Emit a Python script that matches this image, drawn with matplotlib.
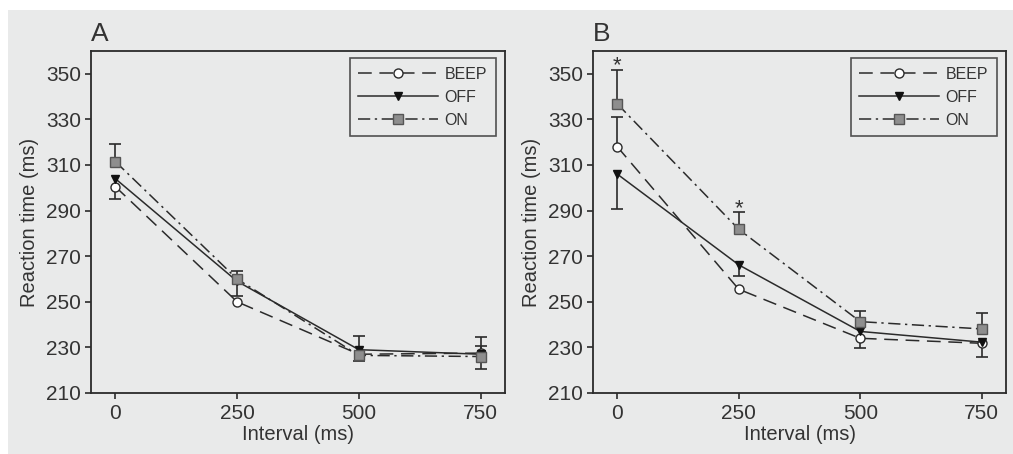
import numpy as np
import matplotlib
matplotlib.use("Agg")
import matplotlib.pyplot as plt
from matplotlib.patches import Rectangle

intervals = [0, 250, 500, 750]
series_names = ["BEEP", "OFF", "ON"]

# Panel A
a_beep = [300.5, 250.0, 227.0, 227.5]
a_off = [304.0, 259.0, 229.0, 227.0]
a_on = [311.5, 260.0, 226.5, 226.0]
a_beep_up = [0, 0, 0, 7.1]
a_beep_lo = [5.3, 0, 0, 0]
a_off_up = [0, 0, 5.8, 3.8]
a_off_lo = [0, 6.4, 0, 0]
a_on_up = [7.6, 3.6, 0, 0]
a_on_lo = [0, 0, 2.3, 5.6]

# Panel B
b_beep = [318.0, 255.5, 234.0, 231.8]
b_off = [306.0, 266.2, 237.0, 232.3]
b_on = [336.8, 281.8, 241.3, 238.1]
b_beep_up = [13.0, 0, 0, 0]
b_beep_lo = [0, 0, 4.2, 6.1]
b_off_up = [0, 0, 0, 0]
b_off_lo = [15.4, 4.8, 0, 0]
b_on_up = [15.0, 7.4, 4.8, 6.9]
b_on_lo = [0, 0, 0, 0]
b_signif = [True, True, False, False]

yticks = [210, 230, 250, 270, 290, 310, 330, 350]
xticks = [0, 250, 500, 750]

BG = "#e9eaea"
INK = "#2b2b2b"
TXT = "#333333"
FONT = "Liberation Sans"

plt.rcParams["font.family"] = [FONT, "DejaVu Sans"]

styles = {
    "BEEP": dict(ls=(0, (9, 5)), marker="o", mfc="white", mec=INK, ms=6.5),
    "OFF": dict(ls="-", marker="v", mfc="#111111", mec="#111111", ms=6.0),
    "ON": dict(ls=(0, (8, 3, 1.5, 3)), marker="s", mfc="#8e8e8e", mec="#555555", ms=6.5),
}

fig = plt.figure(figsize=(10.13, 4.54), dpi=100)
fig.patch.set_facecolor("white")
fig.patches.append(Rectangle((8 / 1013, 0), 1 - 8 / 1013, 1 - 10 / 454,
                             transform=fig.transFigure, facecolor=BG,
                             edgecolor="none", zorder=-10))

def draw_errs(ax, x, y, up, lo):
    x = np.asarray(x, float); y = np.asarray(y, float)
    up = np.asarray(up, float); lo = np.asarray(lo, float)
    for e, sgn in ((up, 1), (lo, -1)):
        m = e > 0
        if m.any():
            tops = y[m] + sgn * e[m]
            ax.vlines(x[m], y[m], tops, color=INK, lw=1.2, zorder=2)
            ax.plot(x[m], tops, ls="none", marker="_", ms=9, mew=1.2,
                    color=INK, zorder=2)

def panel(ax, label, data, errs, signif=None):
    ax.set_facecolor(BG)
    ax.set_xlim(-50, 800)
    ax.set_ylim(210, 360)
    handles = []
    for name, y in zip(series_names, data):
        st = styles[name]
        ln, = ax.plot(intervals, y, color=INK, lw=1.1, ls=st["ls"],
                      marker=st["marker"], mfc=st["mfc"], mec=st["mec"],
                      ms=st["ms"], mew=1.0, zorder=3, label=name)
        handles.append(ln)
    for (y, up, lo) in errs:
        draw_errs(ax, intervals, y, up, lo)
    if signif is not None:
        y_on, up_on = errs[2][0], errs[2][1]
        for xi, yi, ui, s in zip(intervals, y_on, up_on, signif):
            if s:
                ax.annotate("*", (xi, yi + ui), xytext=(0, -5),
                            textcoords="offset points", ha="center",
                            va="bottom", fontsize=16, color=TXT)
    ax.set_xticks(xticks)
    ax.set_yticks(yticks)
    ax.tick_params(direction="out", length=4, width=1.2, color=INK,
                   labelsize=15, labelcolor=TXT, pad=3)
    ax.tick_params(axis="x", pad=4)
    for s in ax.spines.values():
        s.set_color(INK)
        s.set_linewidth(1.3)
    ax.set_xlabel("Interval (ms)", fontsize=14.5, color=TXT, labelpad=1)
    ax.set_ylabel("Reaction time (ms)", fontsize=14.5, color=TXT, labelpad=5)
    ax.text(0.0, 1.015, label, transform=ax.transAxes, fontsize=19,
            color=TXT, ha="left", va="bottom")
    leg = ax.legend(handles=handles, loc="upper right", fontsize=11.5,
                    frameon=True, fancybox=False, handlelength=5.0,
                    handletextpad=0.4, borderpad=0.55, labelspacing=0.5,
                    bbox_to_anchor=(0.978, 0.98), borderaxespad=0)
    leg.get_frame().set_edgecolor(INK)
    leg.get_frame().set_linewidth(1.2)
    leg.get_frame().set_facecolor(BG)
    for t in leg.get_texts():
        t.set_color(TXT)

axA = fig.add_axes([91 / 1013, 61 / 454, 414 / 1013, 342 / 454])
axB = fig.add_axes([593 / 1013, 61 / 454, 413 / 1013, 342 / 454])

panel(axA, "A", [a_beep, a_off, a_on],
      [(a_beep, a_beep_up, a_beep_lo), (a_off, a_off_up, a_off_lo),
       (a_on, a_on_up, a_on_lo)])
panel(axB, "B", [b_beep, b_off, b_on],
      [(b_beep, b_beep_up, b_beep_lo), (b_off, b_off_up, b_off_lo),
       (b_on, b_on_up, b_on_lo)], signif=b_signif)

fig.savefig("out.png", dpi=100, facecolor=fig.get_facecolor())
